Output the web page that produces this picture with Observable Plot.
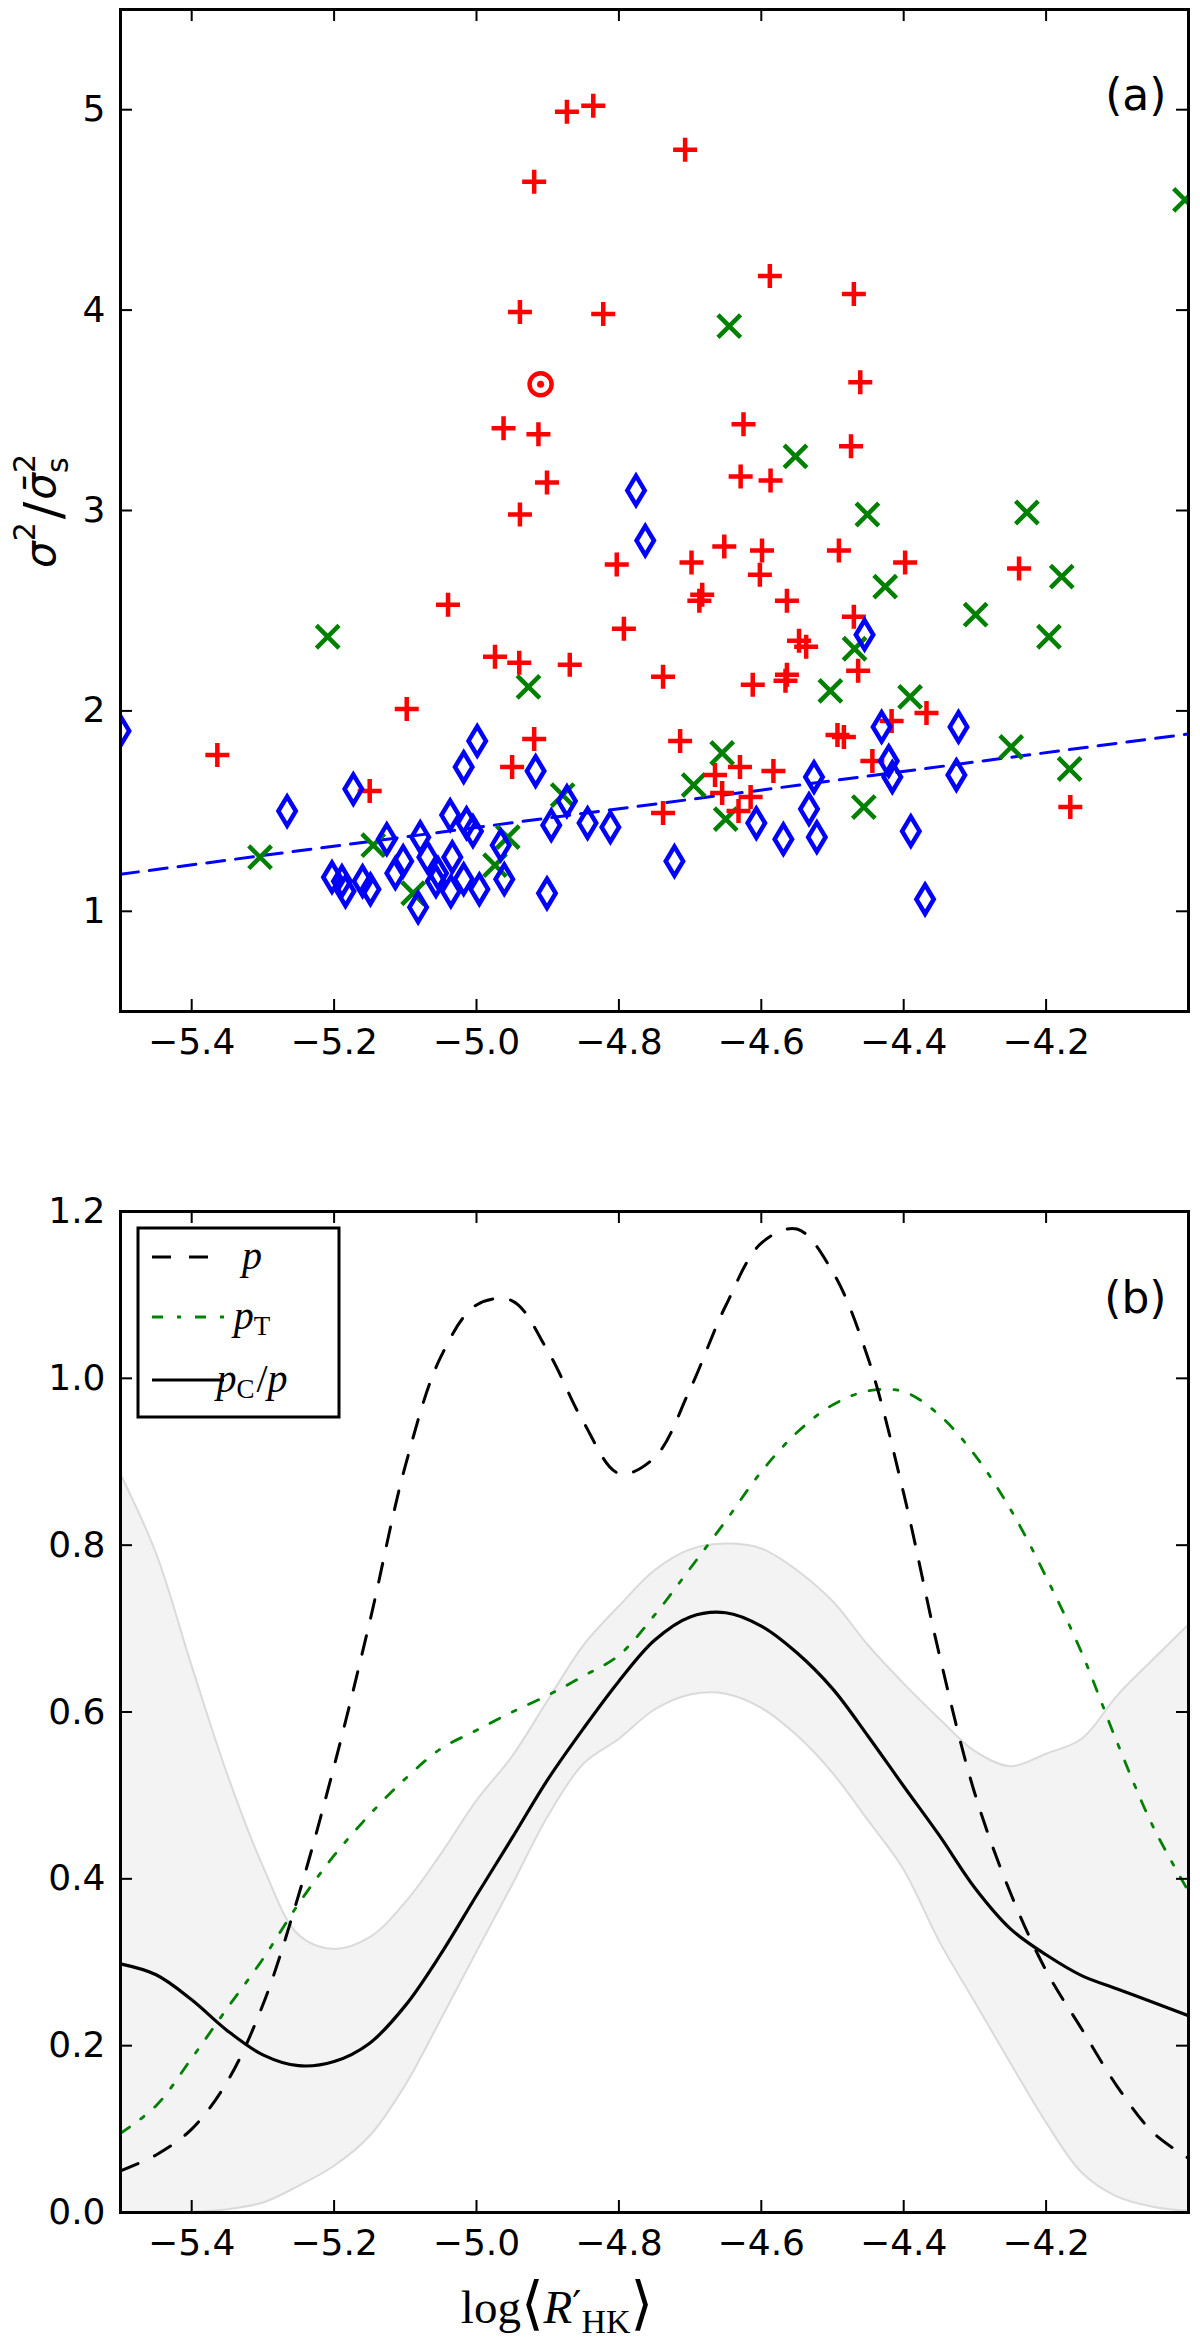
<!DOCTYPE html>
<html>
<head>
<meta charset="utf-8">
<script src="https://cdn.jsdelivr.net/npm/d3@7"></script>
<script src="https://cdn.jsdelivr.net/npm/@observablehq/plot@0.6"></script>
<style>
  body { margin: 0; background: #fff; }
  #chart { width: 1200px; }
  #chart svg { display: block; }
</style>
</head>
<body>
<div id="chart"></div>
<script>
// ticks
const xTicks = [-5.4, -5.2, -5.0, -4.8, -4.6, -4.4, -4.2];
const yTicksA = [1, 2, 3, 4, 5];
const yTicksB = [0, 0.2, 0.4, 0.6, 0.8, 1.0, 1.2];

// panel (a): [log R'HK, sigma^2 / mean sigma_s^2]
const redPlus = [
  [-4.873, 4.99], [-4.836, 5.02], [-4.919, 4.64], [-4.939, 3.99], [-4.822, 3.98],
  [-4.962, 3.41], [-4.913, 3.38], [-4.901, 3.14], [-4.939, 2.98], [-4.707, 4.80],
  [-4.588, 4.17], [-4.470, 4.08], [-4.461, 3.64], [-4.625, 3.43], [-4.629, 3.17],
  [-4.587, 3.15], [-4.474, 3.32], [-5.040, 2.53], [-4.974, 2.27], [-4.940, 2.24],
  [-4.869, 2.23], [-5.098, 2.01], [-5.364, 1.78], [-4.919, 1.86], [-4.950, 1.72],
  [-5.150, 1.60], [-4.803, 2.73], [-4.793, 2.41], [-4.698, 2.74], [-4.652, 2.82],
  [-4.599, 2.80], [-4.602, 2.68], [-4.683, 2.58], [-4.687, 2.55], [-4.564, 2.55],
  [-4.491, 2.80], [-4.398, 2.74], [-4.238, 2.71], [-4.470, 2.47], [-4.547, 2.35],
  [-4.537, 2.32], [-4.738, 2.17], [-4.612, 2.13], [-4.564, 2.18], [-4.566, 2.15],
  [-4.464, 2.20], [-4.417, 1.95], [-4.368, 1.99], [-4.493, 1.88], [-4.484, 1.87],
  [-4.444, 1.75], [-4.714, 1.85], [-4.630, 1.72], [-4.583, 1.70], [-4.665, 1.68],
  [-4.655, 1.59], [-4.615, 1.57], [-4.632, 1.50], [-4.738, 1.49], [-4.166, 1.52]
];
const greenCross = [
  [-4.645, 3.92], [-4.552, 3.27], [-4.451, 2.98], [-4.227, 2.99], [-4.005, 4.55],
  [-5.209, 2.37], [-4.927, 2.12], [-5.304, 1.27], [-5.145, 1.33], [-5.089, 1.09],
  [-4.974, 1.23], [-4.956, 1.37], [-4.879, 1.58], [-4.426, 2.62], [-4.178, 2.67],
  [-4.299, 2.48], [-4.196, 2.37], [-4.469, 2.31], [-4.503, 2.10], [-4.391, 2.07],
  [-4.655, 1.79], [-4.695, 1.63], [-4.650, 1.46], [-4.456, 1.52], [-4.249, 1.82],
  [-4.167, 1.71]
];
const blueDiamond = [
  [-5.500, 1.90], [-5.266, 1.50], [-5.173, 1.61], [-4.999, 1.85], [-5.018, 1.72],
  [-5.037, 1.48], [-5.014, 1.44], [-5.005, 1.40], [-5.126, 1.36], [-5.079, 1.37],
  [-5.103, 1.25], [-5.114, 1.19], [-5.069, 1.27], [-5.034, 1.27], [-5.054, 1.19],
  [-5.057, 1.15], [-5.018, 1.16], [-5.036, 1.10], [-4.996, 1.11], [-5.082, 1.02],
  [-5.203, 1.17], [-5.189, 1.15], [-5.184, 1.10], [-5.160, 1.15], [-5.149, 1.11],
  [-4.966, 1.33], [-4.961, 1.16], [-4.917, 1.70], [-4.901, 1.09], [-4.895, 1.43],
  [-4.873, 1.55], [-4.844, 1.44], [-4.776, 3.10], [-4.763, 2.85], [-4.455, 2.38],
  [-4.431, 1.92], [-4.421, 1.75], [-4.416, 1.67], [-4.323, 1.92], [-4.326, 1.68],
  [-4.526, 1.67], [-4.533, 1.51], [-4.522, 1.37], [-4.569, 1.36], [-4.607, 1.44],
  [-4.812, 1.42], [-4.722, 1.25], [-4.390, 1.40], [-4.370, 1.06]
];
const sunPoint = [[-4.910, 3.63]];
const fitX = [-5.5, -4.0];
const fitY = [1.185, 1.885];

// panel (b)
const gridX = [-5.50, -5.45, -5.40, -5.35, -5.30, -5.25, -5.20, -5.15, -5.10, -5.05, -5.00,
  -4.95, -4.90, -4.85, -4.80, -4.75, -4.70, -4.65, -4.60, -4.55, -4.50,
  -4.45, -4.40, -4.35, -4.30, -4.25, -4.20, -4.15, -4.10, -4.05, -4.00];
const pCurve = [0.050, 0.069, 0.100, 0.157, 0.249, 0.380, 0.535, 0.708, 0.895, 1.026, 1.088,
  1.093, 1.033, 0.948, 0.886, 0.905, 0.987, 1.087, 1.162, 1.179, 1.128,
  1.024, 0.862, 0.669, 0.502, 0.383, 0.290, 0.220, 0.151, 0.096, 0.065];
const pTCurve = [0.095, 0.128, 0.185, 0.245, 0.304, 0.370, 0.428, 0.477, 0.520, 0.556, 0.578,
  0.600, 0.620, 0.643, 0.668, 0.716, 0.772, 0.829, 0.888, 0.935, 0.968,
  0.985, 0.984, 0.956, 0.908, 0.843, 0.762, 0.671, 0.563, 0.463, 0.385];
const pCpCurve = [0.298, 0.285, 0.255, 0.218, 0.189, 0.176, 0.181, 0.203, 0.248, 0.310, 0.380,
  0.449, 0.519, 0.580, 0.637, 0.686, 0.714, 0.719, 0.703, 0.671, 0.628,
  0.571, 0.511, 0.452, 0.389, 0.340, 0.309, 0.284, 0.268, 0.252, 0.236];
const bandHi = [0.885, 0.790, 0.655, 0.525, 0.415, 0.333, 0.316, 0.330, 0.372, 0.430, 0.494,
  0.547, 0.614, 0.680, 0.727, 0.770, 0.795, 0.802, 0.796, 0.770, 0.733,
  0.680, 0.634, 0.592, 0.553, 0.535, 0.550, 0.568, 0.620, 0.663, 0.705];
const bandLo = [0.000, 0.000, 0.001, 0.004, 0.012, 0.032, 0.056, 0.092, 0.153, 0.232, 0.313,
  0.393, 0.475, 0.538, 0.568, 0.603, 0.621, 0.622, 0.605, 0.572, 0.527,
  0.470, 0.411, 0.325, 0.252, 0.179, 0.108, 0.048, 0.019, 0.007, 0.002];

const rowsB = gridX.map((x, i) => ({x, p: pCurve[i], pT: pTCurve[i], pCp: pCpCurve[i], lo: bandLo[i], hi: bandHi[i]}));
const fitRows = fitX.map((x, i) => ({x, y: fitY[i]}));

// layout
const W = 1200, ML = 120, MR = 12, TICK = 12;
const HA = 1100, MTA = 9, MBA = 89;
const HB = 1249, MTB = 111, MBB = 137;
const FW = W - ML - MR;
const DASH = "19,18", DASHDOT = "11,14,4,14";

// marker shapes, scaled by r
const plusSym = {draw(ctx, size) {
  const a = Math.sqrt(size / Math.PI);
  ctx.moveTo(-a, 0); ctx.lineTo(a, 0); ctx.moveTo(0, -a); ctx.lineTo(0, a);
}};
const timesSym = {draw(ctx, size) {
  const a = Math.sqrt(size / Math.PI) * 0.7071;
  ctx.moveTo(-a, -a); ctx.lineTo(a, a); ctx.moveTo(-a, a); ctx.lineTo(a, -a);
}};
const thinDiamond = {draw(ctx, size) {
  const h = Math.sqrt(size / Math.PI), w = h * 0.6;
  ctx.moveTo(0, -h); ctx.lineTo(w, 0); ctx.lineTo(0, h); ctx.lineTo(-w, 0); ctx.closePath();
}};

function frameTicks(yTicks, fh) {
  return [
    Plot.tickX(xTicks, {x: d => d, insetTop: fh - TICK, stroke: "black", strokeWidth: 2}),
    Plot.tickX(xTicks, {x: d => d, insetBottom: fh - TICK, stroke: "black", strokeWidth: 2}),
    Plot.tickY(yTicks, {y: d => d, insetRight: FW - TICK, stroke: "black", strokeWidth: 2}),
    Plot.tickY(yTicks, {y: d => d, insetLeft: FW - TICK, stroke: "black", strokeWidth: 2})
  ];
}

const chartA = Plot.plot({
  width: W, height: HA,
  marginLeft: ML, marginRight: MR, marginTop: MTA, marginBottom: MBA,
  x: {domain: [-5.5, -4.0]},
  y: {domain: [0.5, 5.5]},
  style: {fontFamily: "DejaVu Sans", fontSize: "36px", background: "white", color: "black"},
  marks: [
    Plot.line(fitRows, {x: "x", y: "y", stroke: "blue", strokeWidth: 3, strokeDasharray: "18,11", clip: true}),
    Plot.dot(greenCross, {x: d => d[0], y: d => d[1], symbol: timesSym, r: 16, stroke: "#008000", strokeWidth: 4.5, fill: "none", clip: true}),
    Plot.dot(redPlus, {x: d => d[0], y: d => d[1], symbol: plusSym, r: 12, stroke: "red", strokeWidth: 4.5, fill: "none", clip: true}),
    Plot.dot(sunPoint, {x: d => d[0], y: d => d[1], r: 11, stroke: "red", strokeWidth: 4.5, fill: "none"}),
    Plot.dot(sunPoint, {x: d => d[0], y: d => d[1], r: 3.5, fill: "red"}),
    Plot.dot(blueDiamond, {x: d => d[0], y: d => d[1], symbol: thinDiamond, r: 14.5, stroke: "blue", strokeWidth: 4.5, fill: "none", clip: true}),
    ...frameTicks(yTicksA, HA - MTA - MBA),
    Plot.axisX(xTicks, {anchor: "bottom", tickSize: 0, tickPadding: 17, tickFormat: d3.format(".1f"), label: null, fontSize: 36}),
    Plot.axisY(yTicksA, {anchor: "left", tickSize: 0, tickPadding: 15, tickFormat: d3.format("d"), label: null, fontSize: 36}),
    Plot.text(["(a)"], {frameAnchor: "top-right", dx: -22, dy: 86, textAnchor: "end", lineAnchor: "middle", fontSize: 44}),
    Plot.frame({stroke: "black", strokeWidth: 3})
  ]
});

const chartB = Plot.plot({
  width: W, height: HB,
  marginLeft: ML, marginRight: MR, marginTop: MTB, marginBottom: MBB,
  x: {domain: [-5.5, -4.0]},
  y: {domain: [0, 1.2]},
  style: {fontFamily: "DejaVu Sans", fontSize: "36px", background: "white", color: "black"},
  marks: [
    Plot.areaY(rowsB, {x: "x", y1: "lo", y2: "hi", fill: "#f3f3f3", curve: "catmull-rom", clip: true}),
    Plot.line(rowsB, {x: "x", y: "hi", stroke: "#dadada", strokeWidth: 2, curve: "catmull-rom", clip: true}),
    Plot.line(rowsB, {x: "x", y: "lo", stroke: "#dadada", strokeWidth: 2, curve: "catmull-rom", clip: true}),
    Plot.line(rowsB, {x: "x", y: "pT", stroke: "#008000", strokeWidth: 2.8, strokeDasharray: DASHDOT, curve: "catmull-rom", clip: true}),
    Plot.line(rowsB, {x: "x", y: "p", stroke: "black", strokeWidth: 3, strokeDasharray: DASH, curve: "catmull-rom", clip: true}),
    Plot.line(rowsB, {x: "x", y: "pCp", stroke: "black", strokeWidth: 3.2, curve: "catmull-rom", clip: true}),
    ...frameTicks(yTicksB, HB - MTB - MBB),
    Plot.axisX(xTicks, {anchor: "bottom", tickSize: 0, tickPadding: 17, tickFormat: d3.format(".1f"), label: null, fontSize: 36}),
    Plot.axisY(yTicksB, {anchor: "left", tickSize: 0, tickPadding: 15, tickFormat: d3.format(".1f"), label: null, fontSize: 36}),
    Plot.text(["(b)"], {frameAnchor: "top-right", dx: -22, dy: 87, textAnchor: "end", lineAnchor: "middle", fontSize: 44}),
    Plot.frame({stroke: "black", strokeWidth: 3})
  ]
});

d3.select("#chart").append(() => chartA);
d3.select("#chart").append(() => chartB);

// y label of panel (a)
const ylab = d3.select(chartA).append("text")
  .attr("transform", "translate(55,511) rotate(-90)")
  .attr("text-anchor", "middle")
  .attr("font-family", "DejaVu Sans")
  .attr("font-size", 42)
  .attr("fill", "black");
ylab.append("tspan").attr("font-style", "italic").text("σ");
ylab.append("tspan").attr("font-size", 30).attr("dy", -20).text("2");
ylab.append("tspan").attr("font-size", 52).attr("dx", 3).attr("dy", 26).text("/");
ylab.append("tspan").attr("font-style", "italic").attr("dx", 2).attr("dy", -6).text("σ\u0304");
ylab.append("tspan").attr("font-size", 30).attr("dy", -20).text("2");
ylab.append("tspan").attr("font-size", 30).attr("dx", -19).attr("dy", 33).text("s");

// x label of panel (b)
const xlab = d3.select(chartB).append("text")
  .attr("x", 557).attr("y", 1223)
  .attr("font-family", "Liberation Serif")
  .attr("font-size", 47)
  .attr("fill", "black");
xlab.append("tspan").text("log");
xlab.append("tspan").attr("font-family", "DejaVu Sans").attr("font-size", 58).text("⟨");
xlab.append("tspan").attr("font-style", "italic").text("R");
xlab.append("tspan").attr("font-family", "DejaVu Serif").attr("font-size", 40).attr("dy", -4).text("′");
xlab.append("tspan").attr("font-size", 34).attr("dy", 14).text("HK");
xlab.append("tspan").attr("font-family", "DejaVu Sans").attr("font-size", 58).attr("dy", -10).text("⟩");

// legend of panel (b)
const lg = d3.select(chartB).append("g").attr("font-family", "Liberation Serif").attr("font-size", 40);
lg.append("rect").attr("x", 138).attr("y", 128).attr("width", 201).attr("height", 189)
  .attr("fill", "white").attr("stroke", "black").attr("stroke-width", 3);
const legendRows = [
  {y: 157, stroke: "black", width: 3, dash: DASH, label: [["p", true]]},
  {y: 217, stroke: "#008000", width: 2.8, dash: DASHDOT, label: [["p", true], ["T", false, true]]},
  {y: 280, stroke: "black", width: 3.2, dash: null, label: [["p", true], ["C", false, true], ["/", false], ["p", true]]}
];
legendRows.forEach(r => {
  lg.append("line").attr("x1", 152).attr("x2", 224).attr("y1", r.y).attr("y2", r.y)
    .attr("stroke", r.stroke).attr("stroke-width", r.width).attr("stroke-dasharray", r.dash);
  const t = lg.append("text").attr("x", 252).attr("y", r.y + 12).attr("fill", "black");
  let sub = false;
  r.label.forEach(([s, it, isSub]) => {
    const ts = t.append("tspan").text(s);
    if (it) ts.attr("font-style", "italic");
    if (isSub) { ts.attr("font-size", 27).attr("dy", 6); sub = true; }
    else if (sub) { ts.attr("dy", -6).attr("dx", 2); sub = false; }
  });
});
</script>
</body>
</html>
